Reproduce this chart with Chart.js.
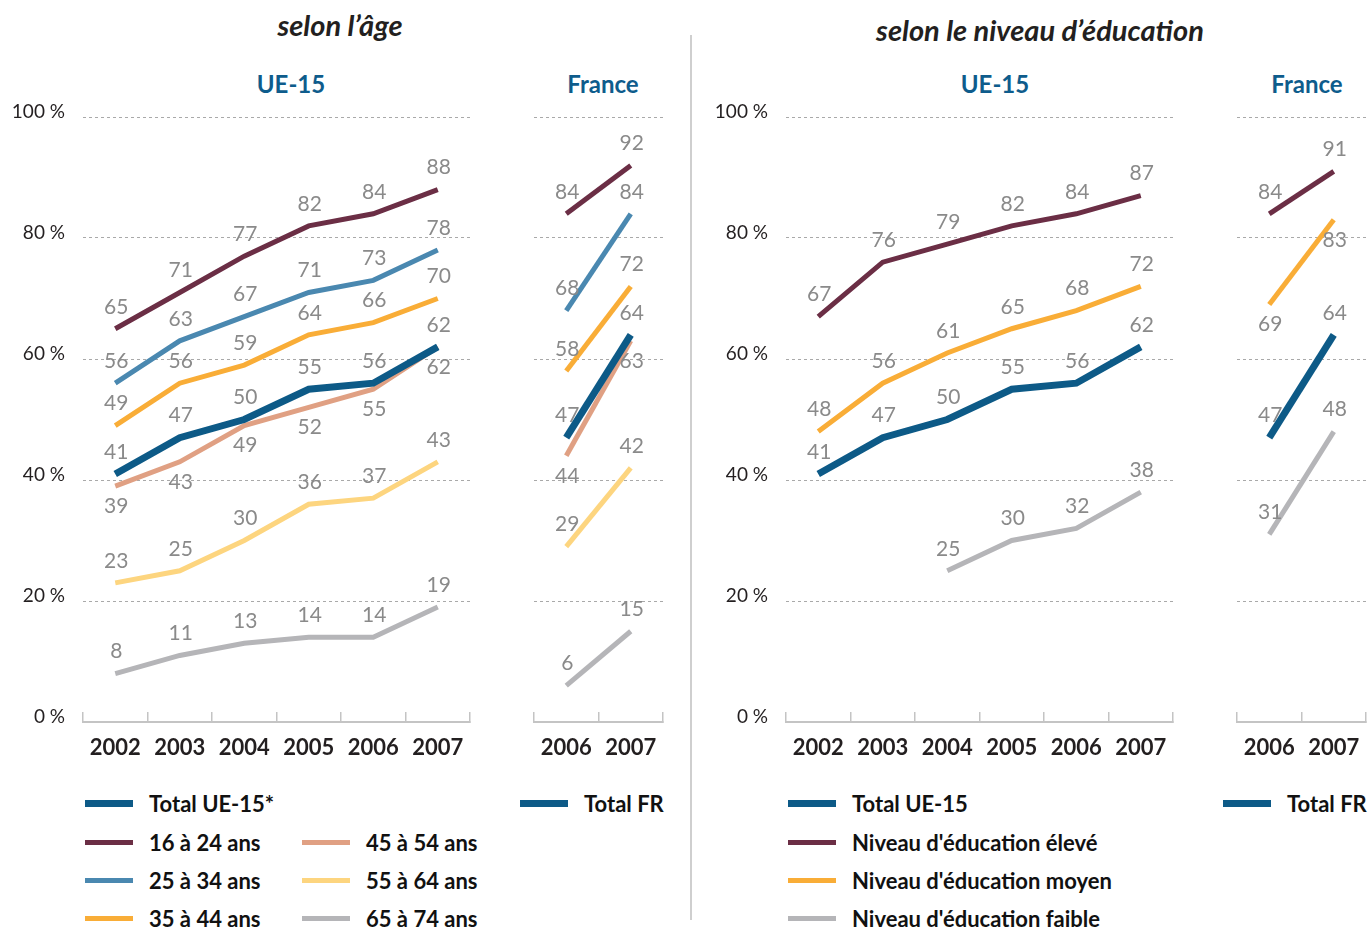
<!DOCTYPE html>
<html>
<head>
<meta charset="utf-8">
<script src="https://cdn.jsdelivr.net/npm/chart.js@4.4.0/dist/chart.umd.min.js"></script>
<style>
  body { margin: 0; background: #fff; width: 1371px; height: 929px; position: relative; overflow: hidden; font-family: Lato, sans-serif; }
  canvas { position: absolute; }
  .t1 { position: absolute; font-style: italic; font-weight: bold; font-size: 29px; line-height: 1; color: #231f20; transform: translateX(-50%); white-space: nowrap; }
  .t2 { position: absolute; font-weight: bold; font-size: 24px; line-height: 1; color: #0e5c8c; transform: translateX(-50%); white-space: nowrap; }
  .sep { position: absolute; left: 690px; top: 35px; width: 1.5px; height: 885px; background: #cfcfcf; }
  .lg { position: absolute; height: 28px; display: flex; align-items: center; font-weight: bold; font-size: 22px; color: #111; white-space: nowrap; }
  .lg .sw { display: inline-block; width: 48px; margin-right: 16px; }
</style>
</head>
<body>
<div class="t1" style="left:340px;top:10px">selon l’âge</div>
<div class="t1" style="left:1040px;top:15px">selon le niveau d’éducation</div>
<div class="t2" style="left:291px;top:72px">UE-15</div>
<div class="t2" style="left:603px;top:72px">France</div>
<div class="t2" style="left:995px;top:72px">UE-15</div>
<div class="t2" style="left:1307px;top:72px">France</div>
<div class="sep"></div>

<canvas id="c1" width="480" height="680" style="left:0;top:100px"></canvas>
<canvas id="c2" width="180" height="680" style="left:500px;top:100px"></canvas>
<canvas id="c3" width="490" height="680" style="left:700px;top:100px"></canvas>
<canvas id="c4" width="176" height="680" style="left:1195px;top:100px"></canvas>

<script>
// --- données ---
const yearsUE = ['2002', '2003', '2004', '2005', '2006', '2007'];
const yearsFR = ['2006', '2007'];
const yTicks = [0, 20, 40, 60, 80, 100];

// selon l'âge, UE-15
const ueTotal = [41, 47, 50, 55, 56, 62];
const ue16_24 = [65, 71, 77, 82, 84, 88];
const ue25_34 = [56, 63, 67, 71, 73, 78];
const ue35_44 = [49, 56, 59, 64, 66, 70];
const ue45_54 = [39, 43, 49, 52, 55, 62];
const ue55_64 = [23, 25, 30, 36, 37, 43];
const ue65_74 = [8, 11, 13, 14, 14, 19];

// selon l'âge, France
const frTotal = [47, 64];
const fr16_24 = [84, 92];
const fr25_34 = [68, 84];
const fr35_44 = [58, 72];
const fr45_54 = [44, 63];
const fr55_64 = [29, 42];
const fr65_74 = [6, 15];

// selon le niveau d'éducation
const ueEduEleve = [67, 76, 79, 82, 84, 87];
const ueEduMoyen = [48, 56, 61, 65, 68, 72];
const ueEduFaible = [null, null, 25, 30, 32, 38];
const frEduEleve = [84, 91];
const frEduMoyen = [69, 83];
const frEduFaible = [31, 48];

const C_TOTAL = '#0d5a87';
const C_16 = '#6b2e45';
const C_25 = '#4a88b0';
const C_35 = '#f9ad37';
const C_45 = '#e0a083';
const C_55 = '#fdd57f';
const C_65 = '#b5b5b8';

// étiquettes de valeurs
const valueLabels = {
  id: 'valueLabels',
  afterDatasetsDraw(chart) {
    const ctx = chart.ctx;
    ctx.save();
    ctx.font = '21px Lato';
    ctx.fillStyle = '#8a8a8a';
    ctx.textAlign = 'center';
    ctx.textBaseline = 'middle';
    chart.data.datasets.forEach((ds, i) => {
      const meta = chart.getDatasetMeta(i);
      meta.data.forEach((pt, j) => {
        const v = ds.data[j];
        if (v == null) return;
        const dy = ds.labelPos === 'below' ? 20 : -22;
        ctx.fillText(v, pt.x + 1, pt.y + dy);
      });
    });
    ctx.restore();
  }
};

function ds(data, color, total, pos) {
  return {
    data: data,
    borderColor: color,
    borderWidth: total ? 7 : 5,
    labelPos: pos || 'above'
  };
}

function makeChart(id, labels, datasets, yWidth, padRight, showY) {
  return new Chart(document.getElementById(id), {
    type: 'line',
    data: { labels: labels, datasets: datasets },
    options: {
      responsive: false,
      animation: false,
      layout: { padding: { left: 0, right: padRight, top: 17, bottom: 0 } },
      elements: {
        point: { radius: 0 },
        line: { tension: 0, borderCapStyle: 'butt', borderJoinStyle: 'miter' }
      },
      plugins: {
        legend: { display: false },
        tooltip: { enabled: false }
      },
      scales: {
        x: {
          offset: true,
          grid: { offset: true, drawOnChartArea: false, tickLength: -10, color: '#c4c4c4', lineWidth: 1.5 },
          border: { color: '#c4c4c4', width: 2 },
          ticks: {
            padding: 23,
            color: '#231f20',
            font: { family: 'Lato', weight: 'bold', size: 22 },
            maxRotation: 0
          },
          afterFit: s => { s.height = 58; s.paddingLeft = 0; s.paddingRight = 0; }
        },
        y: {
          min: 0,
          max: 100,
          afterBuildTicks: s => { s.ticks = yTicks.map(v => ({ value: v })); },
          ticks: {
            display: showY,
            padding: 18,
            labelOffset: -5,
            color: '#231f20',
            font: { family: 'Lato', size: 19 },
            callback: v => v + ' %'
          },
          grid: {
            drawTicks: false,
            lineWidth: 1,
            color: c => (c.tick && c.tick.value === 0) ? 'rgba(0,0,0,0)' : '#a9a9a9'
          },
          border: { display: false, dash: [3, 3] },
          afterFit: s => { s.width = yWidth; s.paddingTop = 0; s.paddingBottom = 0; }
        }
      }
    },
    plugins: [valueLabels]
  });
}

makeChart('c1', yearsUE, [
  ds(ueTotal, C_TOTAL, true),
  ds(ue16_24, C_16),
  ds(ue25_34, C_25),
  ds(ue35_44, C_35),
  ds(ue45_54, C_45, false, 'below'),
  ds(ue55_64, C_55),
  ds(ue65_74, C_65)
], 83, 10, true);

makeChart('c2', yearsFR, [
  ds(frTotal, C_TOTAL, true),
  ds(fr16_24, C_16),
  ds(fr25_34, C_25),
  ds(fr35_44, C_35),
  ds(fr45_54, C_45, false, 'below'),
  ds(fr55_64, C_55),
  ds(fr65_74, C_65)
], 34, 17, false);

makeChart('c3', yearsUE, [
  ds(ueTotal, C_TOTAL, true),
  ds(ueEduEleve, C_16),
  ds(ueEduMoyen, C_35),
  ds(ueEduFaible, C_65)
], 86, 17, true);

makeChart('c4', yearsFR, [
  ds(frTotal, C_TOTAL, true),
  ds(frEduEleve, C_16),
  ds(frEduMoyen, C_35, false, 'below'),
  ds(frEduFaible, C_65)
], 42, 5, false);

// légendes
const legendItems = [
  ['Total UE-15*', C_TOTAL, 7, 85, 803],
  ['16 à 24 ans', C_16, 5, 85, 842],
  ['25 à 34 ans', C_25, 5, 85, 880],
  ['35 à 44 ans', C_35, 5, 85, 918],
  ['45 à 54 ans', C_45, 5, 302, 842],
  ['55 à 64 ans', C_55, 5, 302, 880],
  ['65 à 74 ans', C_65, 5, 302, 918],
  ['Total FR', C_TOTAL, 7, 520, 803],
  ['Total UE-15', C_TOTAL, 7, 788, 803],
  ["Niveau d'éducation élevé", C_16, 5, 788, 842],
  ["Niveau d'éducation moyen", C_35, 5, 788, 880],
  ["Niveau d'éducation faible", C_65, 5, 788, 918],
  ['Total FR', C_TOTAL, 7, 1223, 803]
];
legendItems.forEach(([text, color, h, x, y]) => {
  const d = document.createElement('div');
  d.className = 'lg';
  d.style.left = x + 'px';
  d.style.top = (y - 14) + 'px';
  const sw = document.createElement('span');
  sw.className = 'sw';
  sw.style.height = h + 'px';
  sw.style.background = color;
  d.appendChild(sw);
  d.appendChild(document.createTextNode(text));
  document.body.appendChild(d);
});
</script>
</body>
</html>
